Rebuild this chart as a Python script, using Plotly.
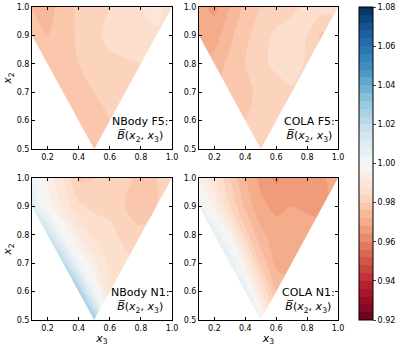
import plotly.graph_objects as go

# grid: x3 along columns, x2 along rows
x3 = [0.1, 0.2, 0.3, 0.4, 0.5, 0.6, 0.7, 0.8, 0.9, 1.0]
x2 = [0.5, 0.6, 0.7, 0.8, 0.9, 1.0]

nbody_f5 = [
    [0.978, 0.978, 0.978, 0.979, 0.979, 0.980, 0.981, 0.982, 0.983, 0.984],
    [0.978, 0.978, 0.978, 0.979, 0.980, 0.980, 0.981, 0.982, 0.983, 0.984],
    [0.977, 0.977, 0.978, 0.979, 0.980, 0.981, 0.982, 0.983, 0.984, 0.985],
    [0.977, 0.977, 0.977, 0.980, 0.982, 0.982, 0.983, 0.984, 0.985, 0.985],
    [0.977, 0.976, 0.977, 0.981, 0.982, 0.986, 0.988, 0.987, 0.987, 0.986],
    [0.976, 0.975, 0.977, 0.981, 0.983, 0.984, 0.987, 0.988, 0.990, 0.986],
]
cola_f5 = [
    [0.981, 0.981, 0.981, 0.981, 0.981, 0.981, 0.981, 0.981, 0.981, 0.981],
    [0.978, 0.978, 0.978, 0.980, 0.981, 0.983, 0.983, 0.982, 0.980, 0.980],
    [0.975, 0.976, 0.978, 0.979, 0.981, 0.980, 0.983, 0.982, 0.980, 0.980],
    [0.972, 0.974, 0.977, 0.980, 0.982, 0.986, 0.987, 0.983, 0.980, 0.980],
    [0.968, 0.970, 0.975, 0.979, 0.982, 0.985, 0.986, 0.984, 0.979, 0.980],
    [0.969, 0.967, 0.972, 0.977, 0.980, 0.981, 0.983, 0.985, 0.986, 0.986],
]
nbody_n1 = [
    [1.045, 1.045, 1.042, 1.040, 1.028, 0.999, 0.987, 0.985, 0.984, 0.984],
    [1.045, 1.042, 1.040, 1.027, 1.002, 0.988, 0.986, 0.985, 0.984, 0.984],
    [1.040, 1.035, 1.022, 1.002, 0.993, 0.987, 0.985, 0.984, 0.983, 0.983],
    [1.030, 1.017, 1.001, 0.992, 0.987, 0.985, 0.983, 0.981, 0.982, 0.983],
    [1.010, 0.998, 0.991, 0.985, 0.983, 0.983, 0.980, 0.978, 0.980, 0.982],
    [1.002, 0.995, 0.988, 0.979, 0.980, 0.983, 0.981, 0.979, 0.980, 0.982],
]
cola_n1 = [
    [1.015, 1.015, 1.012, 1.010, 1.004, 0.984, 0.976, 0.974, 0.974, 0.974],
    [1.015, 1.015, 1.012, 1.007, 0.989, 0.976, 0.973, 0.973, 0.973, 0.973],
    [1.015, 1.012, 1.008, 0.994, 0.979, 0.971, 0.971, 0.972, 0.972, 0.972],
    [1.012, 1.008, 0.997, 0.982, 0.973, 0.970, 0.969, 0.971, 0.972, 0.972],
    [1.005, 0.995, 0.984, 0.975, 0.969, 0.967, 0.968, 0.967, 0.965, 0.972],
    [0.996, 0.989, 0.980, 0.972, 0.967, 0.963, 0.967, 0.968, 0.967, 0.972],
]

panels = [
    ("NBody F5:", nbody_f5),
    ("COLA F5:", cola_f5),
    ("NBody N1:", nbody_n1),
    ("COLA N1:", cola_n1),
]

# matplotlib RdBu
rdbu = ["#67001f", "#b2182b", "#d6604d", "#f4a582", "#fddbc7", "#f7f7f7",
        "#d1e5f0", "#92c5de", "#4393c3", "#2166ac", "#053061"]
cscale = [[i / 10, c] for i, c in enumerate(rdbu)]
zmin, zmax = 0.92, 1.08
cb_ticks = [0.92, 0.94, 0.96, 0.98, 1.00, 1.02, 1.04, 1.06, 1.08]

xr = [0.1, 1.0]
yr = [0.5, 1.0]

fig = go.Figure()

xdoms = [[0, 0.4575], [0.5458, 1.0]]
ydoms = [[0.546, 1.0], [0, 0.4537]]

for i, (name, z) in enumerate(panels):
    n = i + 1
    xa = "x" if n == 1 else "x%d" % n
    ya = "y" if n == 1 else "y%d" % n
    fig.add_trace(go.Contour(
        x=x3, y=x2, z=z, xaxis=xa, yaxis=ya,
        colorscale=cscale, zmin=zmin, zmax=zmax,
        autocontour=False,
        contours=dict(start=zmin, end=zmax, size=0.004, coloring="fill", showlines=False),
        line=dict(width=0),
        showscale=(i == 0),
        colorbar=dict(
            x=1.0686, xanchor="left", xpad=0, y=0.5, yanchor="middle", ypad=0, len=1.0,
            thickness=14, outlinecolor="black", outlinewidth=1,
            tickmode="array", tickvals=cb_ticks,
            ticktext=["%.2f" % t for t in cb_ticks],
            ticks="outside", ticklen=3, tickfont=dict(size=8, color="black"),
        ),
        hoverinfo="skip",
    ))
    # white masks outside the triangle x3 >= 1 - x2, x3 <= x2
    lx = [xr[0], xr[0], 0.5, xr[0]]
    ly = [yr[0], 1 - xr[0], 0.5, yr[0]]
    rx = [xr[1], xr[1], 0.5, xr[1]]
    ry = [yr[0], xr[1], 0.5, yr[0]]
    for mx, my in [(lx, ly), (rx, ry)]:
        fig.add_trace(go.Scatter(
            x=mx, y=my, xaxis=xa, yaxis=ya, mode="lines", fill="toself",
            fillcolor="white", line=dict(width=0, color="white"),
            showlegend=False, hoverinfo="skip",
        ))
    fig.add_annotation(
        xref=xa + " domain", yref=ya + " domain", x=0.99, y=0.02,
        xanchor="right", yanchor="bottom", align="center", showarrow=False,
        text=name + "<br><i>B̅</i>(<i>x</i><sub>2</sub>, <i>x</i><sub>3</sub>)",
        font=dict(size=11, color="black"),
    )

axis_common = dict(
    showline=True, linecolor="black", linewidth=1, mirror="allticks",
    ticks="inside", ticklen=3, tickcolor="black", showgrid=False, zeroline=False,
    tickfont=dict(size=8, color="black"), automargin=False,
)

layout = dict(
    width=399, height=346,
    margin=dict(l=32, r=61, t=7, b=26, autoexpand=False),
    paper_bgcolor="white", plot_bgcolor="white",
    font=dict(family="DejaVu Sans", color="black"),
    showlegend=False,
)
for i in range(4):
    n = i + 1
    col = i % 2
    row = i // 2
    xk = "xaxis" if n == 1 else "xaxis%d" % n
    yk = "yaxis" if n == 1 else "yaxis%d" % n
    ya = "y" if n == 1 else "y%d" % n
    xa = "x" if n == 1 else "x%d" % n
    layout[xk] = dict(axis_common, domain=xdoms[col], range=xr, anchor=ya,
                      tickvals=[0.2, 0.4, 0.6, 0.8, 1.0],
                      ticktext=["0.2", "0.4", "0.6", "0.8", "1.0"])
    layout[yk] = dict(axis_common, domain=ydoms[row], range=yr, anchor=xa,
                      tickvals=[0.5, 0.6, 0.7, 0.8, 0.9, 1.0],
                      ticktext=["0.5", "0.6", "0.7", "0.8", "0.9", "1.0"])
    if row == 1:
        layout[xk]["title"] = dict(text="<i>x</i><sub>3</sub>", font=dict(size=11), standoff=0)
    if col == 0:
        layout[yk]["title"] = dict(text="<i>x</i><sub>2</sub>", font=dict(size=11), standoff=2)

fig.update_layout(**layout)
fig.write_html("out.html", config={"displayModeBar": False},
               post_script="document.body.style.margin='0';")
